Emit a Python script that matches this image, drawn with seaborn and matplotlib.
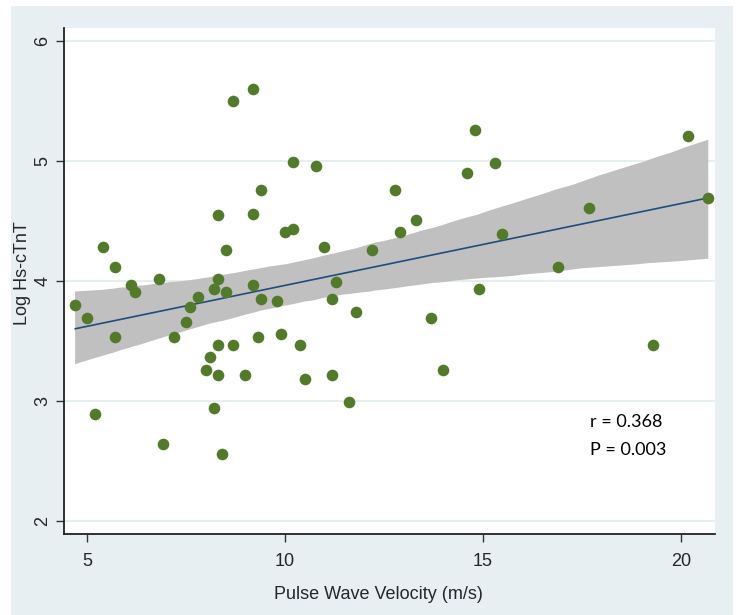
import numpy as np
import pandas as pd
import matplotlib
matplotlib.use("Agg")
import matplotlib.pyplot as plt
from matplotlib.patches import Rectangle
from matplotlib.path import Path
import seaborn as sns

pwv = [4.70, 5.00, 5.21, 5.40, 5.70, 5.70, 6.11, 6.21, 6.81, 6.91,
       7.21, 7.50, 7.61, 7.80, 8.00, 8.10, 8.21, 8.21, 8.31, 8.31,
       8.31, 8.31, 8.40, 8.50, 8.50, 8.69, 8.69, 9.00, 9.20, 9.20,
       9.20, 9.31, 9.39, 9.39, 9.80, 9.90, 10.00, 10.20, 10.20, 10.39,
       10.50, 10.79, 10.99, 11.20, 11.20, 11.30, 11.61, 11.79, 12.20, 12.79,
       12.90, 13.30, 13.70, 14.00, 14.60, 14.79, 14.89, 15.30, 15.49, 16.89,
       17.69, 19.29, 20.17, 20.69]
log_hsctnt = [3.80, 3.69, 2.89, 4.28, 4.12, 3.53, 3.97, 3.91, 4.02, 2.64,
              3.53, 3.66, 3.78, 3.87, 3.26, 3.37, 3.93, 2.94, 4.55, 4.02,
              3.47, 3.22, 2.56, 4.26, 3.91, 5.50, 3.47, 3.22, 5.60, 4.56,
              3.97, 3.53, 4.76, 3.85, 3.83, 3.56, 4.41, 4.99, 4.43, 3.47,
              3.18, 4.96, 4.28, 3.85, 3.22, 3.99, 2.99, 3.74, 4.26, 4.76,
              4.41, 4.51, 3.69, 3.26, 4.90, 5.26, 3.93, 4.98, 4.39, 4.12,
              4.61, 3.47, 5.21, 4.69]
x_ticks = [5, 10, 15, 20]
y_ticks = [2, 3, 4, 5, 6]
stats_text = ["r = 0.368", "P = 0.003"]

df = pd.DataFrame({"Pulse Wave Velocity (m/s)": pwv, "Log Hs-cTnT": log_hsctnt})

sns.set_style("white")
plt.rcParams["font.family"] = ["Liberation Sans", "DejaVu Sans"]

W, H = 743, 615
fig = plt.figure(figsize=(W / 100, H / 100), dpi=100, facecolor="white")
fig.patches.append(Rectangle((11 / W, 0), (733 - 11) / W, 1 - 6 / H,
                             transform=fig.transFigure, facecolor="#e8eff2",
                             edgecolor="none", zorder=-10))
ax = fig.add_axes([64 / W, 1 - 534 / H, (715 - 64) / W, (534 - 28) / H])
ax.set_facecolor("white")

# elliptical marker (slightly taller than wide)
t = np.linspace(0, 2 * np.pi, 40)
ell = Path(np.column_stack([0.8 * np.cos(t), np.sin(t)]), closed=True)

sns.regplot(data=df, x="Pulse Wave Velocity (m/s)", y="Log Hs-cTnT", ax=ax,
            ci=97, n_boot=2000, seed=3,
            scatter_kws=dict(color="#527a2a", s=70, marker=ell, linewidths=0, alpha=1, zorder=3),
            line_kws=dict(color="#1f4e79", lw=1.2, zorder=2))
for coll in ax.collections[1:]:
    coll.set_facecolor("#c0c0c0")
    coll.set_alpha(1)
    coll.set_edgecolor("none")
    coll.set_zorder(1)

ax.set_xlim(4.42, 20.86)
ax.set_ylim(1.89, 6.11)
ax.set_xticks(x_ticks)
ax.set_yticks(y_ticks)
ax.set_xticklabels([str(v) for v in x_ticks], fontsize=13)
ax.set_yticklabels([str(v) for v in y_ticks], fontsize=13, rotation=90, va="center")
for v in y_ticks:
    ax.axhline(v, color="#e6eff0", lw=1.5, zorder=0)
ax.tick_params(axis="both", direction="out", length=6, width=1, color="#333333", bottom=True, left=True)
ax.tick_params(axis="x", pad=8)
ax.tick_params(axis="y", pad=3)
ax.set_xlabel("Pulse Wave Velocity (m/s)", fontsize=13)
ax.set_ylabel("Log Hs-cTnT", fontsize=13)
ax.xaxis.set_label_coords(0.483, -0.103)
ax.yaxis.set_label_coords(-0.05, 0.515)

for s in ["top", "right"]:
    ax.spines[s].set_visible(False)
for s in ["left", "bottom"]:
    ax.spines[s].set_color("#222222")
    ax.spines[s].set_linewidth(1.3)

ax.text(17.7, 2.82, stats_text[0], fontsize=13, family=["Lato", "DejaVu Sans"], color="black", va="center")
ax.text(17.7, 2.59, stats_text[1], fontsize=13, family=["Lato", "DejaVu Sans"], color="black", va="center")

fig.savefig("out.png", dpi=100, facecolor="white")
